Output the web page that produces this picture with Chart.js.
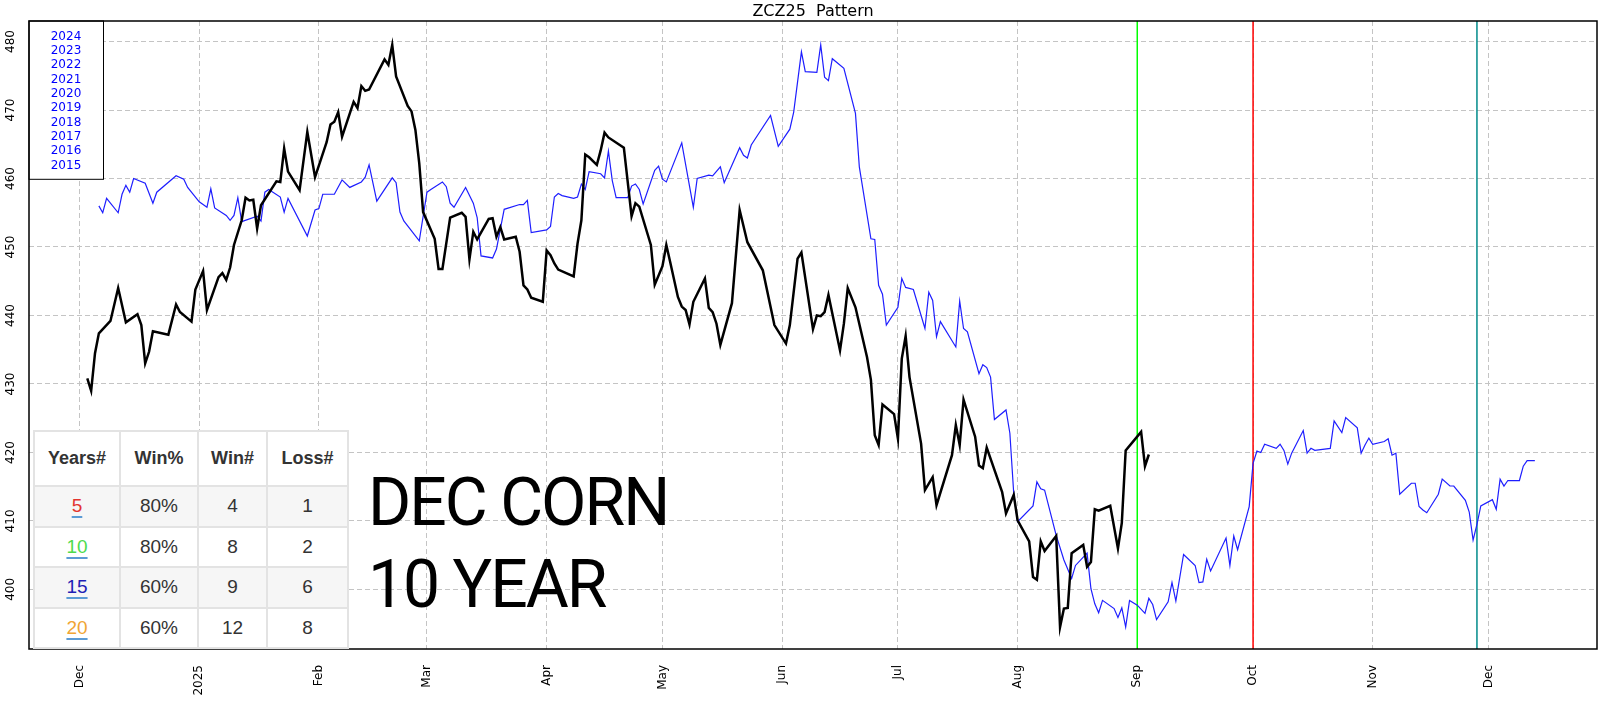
<!DOCTYPE html>
<html lang="en">

<head>
    <meta charset="UTF-8" />
    <title>ZCZ25 Pattern</title>
    <script src="https://cdn.jsdelivr.net/npm/chart.js"></script>
    <style>
        body { margin: 0; background: #fff; }
        .wrap { position: relative; width: 1604px; height: 708px; }
        .tabela {
            position: absolute; left: 33px; top: 430px; width: 314px;
            border-collapse: collapse; table-layout: fixed; background: #fff;
            font-family: "Liberation Sans", Arial, sans-serif; font-size: 19px; color: #333;
        }
        .tabela th, .tabela td { border: 2px solid #e3e3e3; text-align: center; padding: 0; box-sizing: border-box; }
        .tabela th { height: 55px; font-weight: bold; font-size: 18px; background: #fff; }
        .tabela td { height: 40.5px; }
        .tabela tr.cinza td { background: #f6f6f6; }
        .tabela .ano { text-decoration: underline; text-decoration-color: #5b9bd5; text-decoration-thickness: 2px; text-underline-offset: 4px; }
    </style>
</head>

<body>
    <div class="wrap">
        <canvas id="grafico" width="1604" height="708"></canvas>
        <table class="tabela" id="tabela"></table>
    </div>

<script>
    // dias contados a partir de 1 dez 2024
    const tickDays = [0, 31, 62, 90, 121, 151, 182, 212, 243, 274, 304, 335, 365]
    const tickLabels = ['Dec', '2025', 'Feb', 'Mar', 'Apr', 'May', 'Jun', 'Jul', 'Aug', 'Sep', 'Oct', 'Nov', 'Dec']
    const yTicks = [400, 410, 420, 430, 440, 450, 460, 470, 480]

    // ZCZ25 (linha preta)
    const blackDays = [2, 3, 4, 5, 8, 10, 12, 15, 16, 17, 18, 19, 23, 25, 26, 29, 30, 32, 33, 36, 37, 38, 39, 40,
        42, 43, 44, 45, 46, 47, 51, 52, 53, 54, 57, 59, 61, 64, 65, 66, 67, 68, 71, 72, 73, 74, 75, 79, 80, 81, 82,
        85, 86, 87, 88, 89, 92, 93, 94, 96, 99, 100, 101, 102, 103, 106, 107, 108, 109, 110, 113, 114, 115, 116, 117,
        120, 121, 122, 123, 124, 128, 129, 130, 131, 132, 134, 135, 136, 137, 141, 142, 143, 144, 145, 148, 149, 151,
        152, 153, 155, 156, 157, 158, 159, 162, 163, 164, 165, 166, 169, 171, 173, 177, 180, 183, 184, 186, 187, 190,
        191, 192, 193, 194, 197, 198, 199, 201, 204, 205, 206, 207, 208, 211, 212, 213, 214, 215, 218, 219, 221, 222,
        226, 227, 228, 229, 232, 233, 234, 235, 239, 240, 242, 243, 246, 247, 248, 249, 250, 253, 254, 255, 256, 257,
        260, 261, 262, 263, 264, 267, 269, 270, 271, 275, 276, 277]
    const blackVals = [430.8, 429.0, 434.5, 437.4, 439.2, 444.0, 439.0, 440.2, 438.6, 433.0, 434.7, 437.7, 437.2, 441.6,
        440.5, 439.1, 443.8, 446.5, 440.8, 445.6, 446.2, 445.2, 447.0, 450.3,
        453.9, 457.2, 456.8, 456.9, 452.7, 456.1, 459.6, 459.5, 464.4, 461.0, 458.3, 466.8, 460.2, 465.3, 467.9, 468.3,
        469.7, 466.1, 471.2, 470.3, 473.5, 472.8, 473.0, 477.4, 476.6, 479.5, 474.9,
        470.6, 469.8, 467.1, 462.2, 455.1, 451.2, 446.8, 446.8, 454.3, 455.0, 454.4, 448.2, 452.2, 451.1, 454.1, 454.2,
        451.5, 452.9, 451.1, 451.5, 449.3, 444.4, 443.8, 442.6,
        442.0, 449.5, 448.8, 447.6, 446.7, 445.7, 450.5, 453.9, 463.5, 463.1, 462.0, 464.1, 466.7, 466.0, 464.5, 459.5,
        454.5, 456.4, 455.9, 450.3, 444.5, 447.2,
        450.3, 447.8, 442.7, 441.3, 440.8, 438.7, 442.0, 445.4, 441.1, 440.5, 438.8, 435.7, 441.8, 455.4, 450.7, 446.6,
        438.6, 435.9, 438.6, 448.3, 449.2, 438.0,
        440.0, 439.9, 440.5, 443.0, 434.9, 438.8, 444.0, 441.2, 433.9, 430.6, 422.5, 421.1, 427.0, 425.6, 422.0, 433.7,
        437.0, 431.0, 421.3, 414.5, 416.4, 412.3,
        419.6, 424.0, 421.1, 427.7, 422.3, 418.1, 417.7, 420.7, 414.2, 411.1, 413.8, 410.1, 407.0, 401.8, 401.4, 407.0,
        405.6, 407.8, 394.5, 397.2, 397.3, 405.3,
        406.5, 403.3, 404.0, 411.7, 411.5, 412.2, 406.0, 409.7, 420.3, 423.0, 418.0, 419.7]

    // media 2015-2024 (linha azul)
    const blueDays = [5, 6, 7, 10, 11, 12, 13, 14, 17, 19, 20, 25, 27, 28, 31, 33, 34, 35, 38, 39, 40, 41, 42, 46, 47,
        48, 49, 52, 53, 54, 59, 61, 62, 63, 66, 68, 70, 73, 74, 75, 77, 81, 82, 83, 84, 88, 90, 91, 94, 95, 96, 97,
        100, 102, 103, 104, 107, 108, 110, 114, 115, 116, 117, 121, 122, 123, 124, 125, 128, 129, 130, 131, 132, 135,
        136, 137, 138, 139, 142, 143, 144, 145, 146, 149, 150, 151, 152, 156, 159, 160, 163, 164, 166, 167, 171, 172,
        173, 174, 179, 181, 184, 185, 187, 188, 191, 192, 193, 194, 195, 198, 201, 202, 205, 206, 207, 208, 209, 212,
        213, 214, 216, 219, 220, 221, 222, 223, 227, 228, 229, 230, 233, 234, 235, 236, 237, 240, 241, 242, 243, 247,
        248, 249, 250, 253, 255, 257, 258, 261, 262, 263, 264, 265, 268, 269, 270, 271, 272, 274, 276, 277, 278, 279,
        282, 283, 284, 286, 289, 290, 291, 292, 293, 297, 298, 299, 300, 303, 304, 305, 306, 307, 310, 311, 312, 313,
        314, 317, 318, 319, 320, 324, 325, 327, 328, 331, 332, 333, 334, 335, 338, 339, 340, 341, 342, 345, 346, 347,
        348, 349, 352, 353, 355, 356, 359, 360, 361, 362, 363, 366, 367, 368, 369, 370, 373, 374, 375, 377]
    const blueVals = [456.0, 455.0, 457.1, 455.0, 457.7, 459.0, 458.0, 460.0, 459.3, 456.4, 458.0, 460.4, 459.9, 458.7,
        456.6, 455.8, 458.5, 455.7, 454.6, 453.9, 454.6, 457.2, 453.7, 454.5, 453.8,
        458.0, 458.4, 457.3, 455.1, 457.1, 451.6, 455.4, 455.6, 457.7, 457.7, 459.8, 458.7, 459.5, 460.2, 462.0, 456.7,
        460.1, 459.4, 455.1, 453.8, 450.9, 458.0, 458.4, 459.5, 458.8, 456.4, 455.8,
        458.7, 456.4, 454.3, 448.7, 448.4, 449.7, 455.5, 456.2, 456.2, 456.8, 452.1, 452.5, 453.0, 457.3, 457.8, 457.5,
        457.1, 457.3, 459.2, 458.4, 461.0, 460.7,
        460.1, 464.0, 459.7, 457.2, 457.2, 458.9, 459.2, 458.4, 456.3, 461.2, 461.8, 459.9, 459.5, 465.2, 455.8, 460.0,
        460.5, 460.4, 461.7, 459.4, 464.5, 463.4,
        463.0, 464.9, 469.2, 464.7, 467.2, 469.7, 478.5, 475.6, 475.5, 479.5, 474.8, 474.3, 477.5, 476.1, 469.5, 461.7,
        451.2, 451.1, 444.4, 443.1, 438.6, 441.2,
        445.4, 444.1, 443.8, 438.1, 443.4, 442.2, 436.9, 439.1, 435.4, 442.1, 438.1, 437.6, 431.5, 432.8, 432.4, 431.0,
        424.8, 426.2, 422.8, 414.0, 409.9, 412.2,
        415.7, 414.7, 414.5, 407.9, 404.3, 401.6, 403.5, 405.3, 400.1, 397.9, 396.6, 398.4, 397.2, 395.9, 397.3, 394.5,
        398.4, 397.7, 396.5, 398.7, 397.8, 395.6,
        398.2, 401.0, 398.3, 405.1, 403.5, 401.0, 401.1, 404.4, 402.7, 407.5, 403.5, 407.8, 405.8, 412.1, 418.4, 420.2,
        420.0, 421.2, 420.6, 421.2, 420.3, 418.3,
        419.9, 423.2, 419.9, 420.6, 420.3, 420.6, 424.6, 422.9, 425.1, 423.6, 419.9, 421.1, 422.1, 421.2, 421.6, 422.0,
        419.6, 419.9, 413.9, 415.5, 415.5, 412.1,
        411.6, 411.2, 413.9, 416.1, 415.1, 415.1, 413.0, 411.3, 407.2, 409.5, 412.2, 413.1, 411.7, 416.1, 415.1, 415.9,
        415.9, 418.0, 418.8, 418.8]

    // linhas verticais
    const markerDays = [274, 304, 362]
    const markerColors = ['#00ff00', '#ff0000', '#008b8b']

    const anos = ['2024', '2023', '2022', '2021', '2020', '2019', '2018', '2017', '2016', '2015']
    const titulo = 'ZCZ25  Pattern'
    const textoGrande = ['DEC CORN', '10 YEAR']

    // tabela
    const cabecalho = ['Years#', 'Win%', 'Win#', 'Loss#']
    const tabAnos = ['5', '10', '15', '20']
    const tabCores = ['#e3342f', '#4ddb4d', '#1f1fb5', '#f0a534']
    const tabWinPct = ['80%', '80%', '60%', '60%']
    const tabWin = [4, 8, 9, 12]
    const tabLoss = [1, 2, 6, 8]

    const yMin = 391.3
    const yMax = 483
</script>

<script>
    var html = '<colgroup><col style="width:86px"><col style="width:78px"><col style="width:69px"><col style="width:81px"></colgroup>'
    html += '<tr>' + cabecalho.map(c => '<th>' + c + '</th>').join('') + '</tr>'
    for (i = 0; i < tabAnos.length; i++) {
        html += '<tr class="' + (i % 2 == 0 ? 'cinza' : '') + '">'
        html += '<td><span class="ano" style="color:' + tabCores[i] + '">' + tabAnos[i] + '</span></td>'
        html += '<td>' + tabWinPct[i] + '</td><td>' + tabWin[i] + '</td><td>' + tabLoss[i] + '</td></tr>'
    }
    document.getElementById('tabela').innerHTML = html

    const moldura = {
        id: 'moldura',
        afterDraw(chart) {
            const ctx = chart.ctx
            const a = chart.chartArea
            ctx.save()

            ctx.fillStyle = '#000'
            ctx.font = '16px "DejaVu Sans"'
            ctx.textAlign = 'center'
            ctx.textBaseline = 'alphabetic'
            ctx.fillText(titulo, (a.left + a.right) / 2, 16)

            // caixa dos anos
            ctx.fillStyle = '#fff'
            ctx.fillRect(a.left, a.top, 74.5, 158.3)
            ctx.strokeStyle = '#000'
            ctx.lineWidth = 1
            ctx.strokeRect(a.left, a.top, 74.5, 158.3)
            ctx.fillStyle = '#0000ff'
            ctx.font = '12px "DejaVu Sans"'
            ctx.textBaseline = 'middle'
            for (i = 0; i < anos.length; i++) {
                ctx.fillText(anos[i], a.left + 37, a.top + 15.7 + i * 14.33)
            }

            ctx.lineWidth = 1.5
            ctx.strokeRect(a.left, a.top, a.right - a.left, a.bottom - a.top)

            ctx.fillStyle = '#000'
            ctx.font = '66px Roboto'
            ctx.letterSpacing = '-2px'
            ctx.textAlign = 'left'
            ctx.textBaseline = 'alphabetic'
            ctx.fillText(textoGrande[0], 368, 525)
            ctx.fillText(textoGrande[1], 368, 606.7)
            ctx.restore()
        }
    }

    const conjuntos = [
        {
            label: 'ZCZ25',
            data: blackDays.map((d, i) => ({ x: d, y: blackVals[i] })),
            borderColor: '#000',
            borderWidth: 2.5
        },
        {
            label: 'media',
            data: blueDays.map((d, i) => ({ x: d, y: blueVals[i] })),
            borderColor: 'rgb(30,30,255)',
            borderWidth: 1.2
        }
    ]
    for (i = 0; i < markerDays.length; i++) {
        conjuntos.push({
            label: 'm' + i,
            data: [{ x: markerDays[i], y: yMin }, { x: markerDays[i], y: yMax }],
            borderColor: markerColors[i],
            borderWidth: 1.5
        })
    }

    new Chart(document.getElementById('grafico'), {
        type: 'line',
        data: { datasets: conjuntos },
        options: {
            responsive: false,
            animation: false,
            layout: { padding: { top: 21, right: 7, left: 0, bottom: 0 } },
            elements: { point: { radius: 0 }, line: { tension: 0, fill: false } },
            plugins: { legend: { display: false }, tooltip: { enabled: false } },
            scales: {
                x: {
                    type: 'linear',
                    min: -13.1,
                    max: 393.1,
                    afterBuildTicks: s => { s.ticks = tickDays.map(v => ({ value: v })) },
                    afterFit: s => { s.height = 59 },
                    grid: { color: '#c4c4c4', drawTicks: false },
                    border: { display: false, dash: [5, 3] },
                    ticks: {
                        autoSkip: false, minRotation: 90, maxRotation: 90, padding: 16, color: '#000',
                        font: { family: 'DejaVu Sans', size: 12 },
                        callback: v => tickLabels[tickDays.indexOf(v)]
                    }
                },
                y: {
                    min: yMin,
                    max: yMax,
                    afterBuildTicks: s => { s.ticks = yTicks.map(v => ({ value: v })) },
                    afterFit: s => { s.width = 29 },
                    grid: { color: '#c4c4c4', drawTicks: false },
                    border: { display: false, dash: [5, 3] },
                    ticks: {
                        minRotation: 90, maxRotation: 90, crossAlign: 'center', padding: 7, color: '#000',
                        font: { family: 'DejaVu Sans', size: 12 }
                    }
                }
            }
        },
        plugins: [moldura]
    })
</script>
</body>

</html>
